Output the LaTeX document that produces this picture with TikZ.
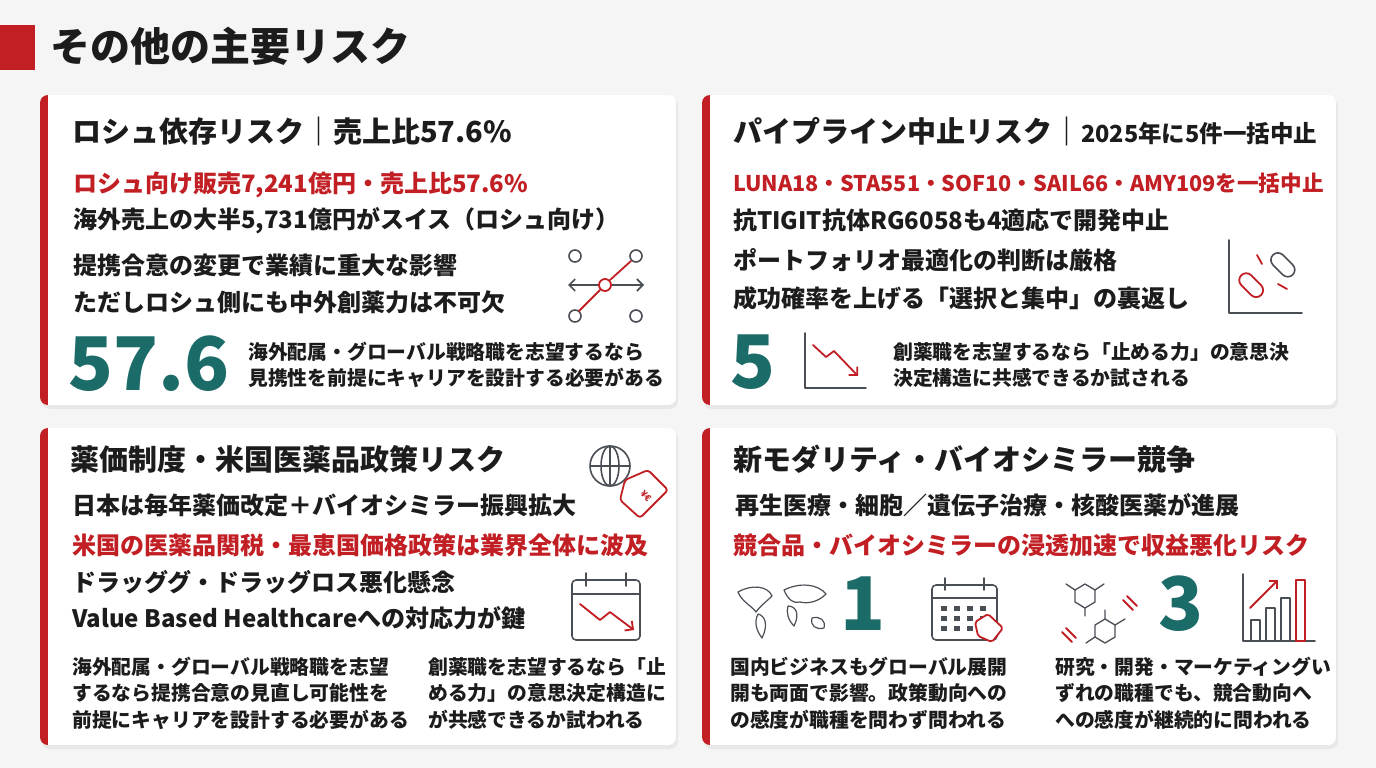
\documentclass[tikz,border=0pt]{standalone}
\usepackage{fontspec}
\setmainfont{Noto Sans CJK JP}
\usetikzlibrary{arrows.meta}
\definecolor{rd}{HTML}{C21F25}
\definecolor{tl}{HTML}{1B6B68}
\definecolor{tx}{HTML}{1C1C1C}
\definecolor{ic}{HTML}{4A4F55}
\newcommand{\fs}[1]{\fontsize{#1}{#1}\selectfont}
\newcommand{\cardbox}[4]{%
  \fill[black!9,rounded corners=8] (#1+2,#2+3) rectangle (#3+2,#4+4);
  \begin{scope}
  \clip[rounded corners=8] (#1,#2) rectangle (#3,#4);
  \fill[white] (#1,#2) rectangle (#3,#4);
  \fill[rd] (#1,#2) rectangle (#1+8,#4);
  \end{scope}}
\tikzset{
  ttl/.style={anchor=west,inner sep=0,text=tx,font=\fs{29}\bfseries},
  bd/.style={anchor=west,inner sep=0,text=tx,font=\fs{24}\bfseries},
  rdt/.style={anchor=west,inner sep=0,text=rd,font=\fs{24}\bfseries},
  sm/.style={anchor=west,inner sep=0,text=tx,font=\fs{19.8}\bfseries},
  big/.style={anchor=west,inner sep=0,text=tl,font=\fs{74}\bfseries},
  ico/.style={draw=ic,line width=1.6pt,line cap=round,line join=round},
  icr/.style={draw=rd,line width=1.8pt,line cap=round,line join=round}
}
\begin{document}
\begin{tikzpicture}[x=1pt,y=-1pt]
\fill[black!4] (0,0) rectangle (1376,768);
\useasboundingbox (0,0) rectangle (1376,768);
\fill[rd] (0,25) rectangle (35,70);
\node[anchor=west,inner sep=0,text=tx,font=\fs{40}\bfseries] (title) at (50,46) {その他の主要リスク};

\cardbox{40}{95}{676}{405}
\cardbox{702}{95}{1336}{405}
\cardbox{40}{428}{676}{745}
\cardbox{702}{428}{1336}{745}

% card 1
\node[ttl] (a1) at (72,131) {ロシュ依存リスク｜売上比57.6\%};
\node[rdt] (a2) at (73,185) {ロシュ向け販売7,241億円・売上比57.6\%};
\node[bd] (a3) at (73,221) {海外売上の大半5,731億円がスイス（ロシュ向け）};
\node[bd] (a4) at (73,265) {提携合意の変更で業績に重大な影響};
\node[bd] (a5) at (73,302) {ただしロシュ側にも中外創薬力は不可欠};
\node[big] (a6) at (68,364) {57.6};
\node[sm] (a7) at (248,352) {海外配属・グローバル戦略職を志望するなら};
\node[sm] (a8) at (248,378) {見携性を前提にキャリアを設計する必要がある};
\draw[ico] (575,256) circle (6) (636,256) circle (6) (575,316) circle (6) (636,316) circle (6);
\draw[ico,-{Straight Barb[length=6pt]}] (598,285) -- (568,285);
\draw[ico,-{Straight Barb[length=6pt]}] (612,285) -- (644,285);
\draw[icr] (579,311) -- (600,290) (610,280) -- (631,261);
\draw[icr] (605,285) circle (6);

% card 2
\node[ttl] (b1) at (733,131) {パイプライン中止リスク｜\fs{23.5}2025年に5件一括中止};
\node[rdt,font=\fs{21.6}\bfseries] (b2) at (733,183) {LUNA18・STA551・SOF10・SAIL66・AMY109を一括中止};
\node[bd] (b3) at (733,220) {抗TIGIT抗体RG6058も4適応で開発中止};
\node[bd] (b4) at (733,260) {ポートフォリオ最適化の判断は厳格};
\node[bd] (b5) at (733,298) {成功確率を上げる「選択と集中」の裏返し};
\node[big] (b6) at (730,362) {5};
\node[sm] (b7) at (893,352) {創薬職を志望するなら「止める力」の意思決};
\node[sm] (b8) at (893,378) {決定構造に共感できるか試される};
\draw[ico] (805,333) -- (805,388) -- (866,388);
\draw[icr,-{Straight Barb[length=6pt]}] (813,345) -- (826,357) -- (834,351) -- (858,376);
\draw[ico] (1229,240) -- (1229,313) -- (1302,313);
\begin{scope}[shift={(1254,288)},rotate=-45]
\draw[icr,rounded corners=7] (-18,-7) rectangle (10,7);
\end{scope}
\begin{scope}[shift={(1280,262)},rotate=-45]
\draw[ico,rounded corners=7] (-10,-7) rectangle (18,7);
\end{scope}
\draw[icr] (1262,264) -- (1257,255) (1278,284) -- (1287,289);

% card 3
\node[ttl] (c1) at (70,459) {薬価制度・米国医薬品政策リスク};
\node[bd] (c2) at (72,505) {日本は毎年薬価改定＋バイオシミラー振興拡大};
\node[rdt] (c3) at (72,545) {米国の医薬品関税・最恵国価格政策は業界全体に波及};
\node[bd] (c4) at (72,582) {ドラッググ・ドラッグロス悪化懸念};
\node[bd] (c5) at (72,618) {Value Based Healthcareへの対応力が鍵};
\node[sm] (c6) at (72,667) {海外配属・グローバル戦略職を志望};
\node[sm] (c7) at (72,693) {するなら提携合意の見直し可能性を};
\node[sm] (c8) at (72,720) {前提にキャリアを設計する必要がある};
\node[sm] (c9) at (428,667) {創薬職を志望するなら「止};
\node[sm] (c10) at (428,693) {める力」の意思決定構造に};
\node[sm] (c11) at (428,720) {が共感できるか試われる};
\draw[ico] (610,466) circle (20) (610,446) -- (610,486) (590,466) -- (630,466);
\draw[ico] (610,466) ellipse (9 and 20);
\draw[icr,rounded corners=3] (625,480) -- (648,470) -- (668,490) -- (640,518) -- (620,500) -- cycle;
\node[text=rd,font=\fs{9}\bfseries,rotate=-45,inner sep=0] (tag1) at (646,496) {¥€};
\draw[ico,rounded corners=4] (572,580) rectangle (640,640);
\draw[ico] (572,594) -- (640,594) (586,573) -- (586,586) (626,573) -- (626,586);
\draw[icr,-{Straight Barb[length=6pt]}] (580,604) -- (600,620) -- (610,612) -- (634,630);

% card 4
\node[ttl] (d1) at (733,459) {新モダリティ・バイオシミラー競争};
\node[bd] (d2) at (735,505) {再生医療・細胞／遺伝子治療・核酸医薬が進展};
\node[rdt] (d3) at (733,545) {競合品・バイオシミラーの浸透加速で収益悪化リスク};
\node[big] (d4) at (840,604) {1};
\node[big] (d5) at (1158,604) {3};
\node[sm] (d6) at (730,667) {国内ビジネスもグローバル展開};
\node[sm] (d7) at (730,693) {開も両面で影響。政策動向への};
\node[sm] (d8) at (730,720) {の感度が職種を問わず問われる};
\node[sm] (d9) at (1055,667) {研究・開発・マーケティングい};
\node[sm] (d10) at (1055,693) {ずれの職種でも、競合動向へ};
\node[sm] (d11) at (1055,720) {への感度が継続的に問われる};
% world map
\draw[ico,line width=1.2pt] (738,592) .. controls (752,584) and (768,586) .. (772,596) .. controls (766,602) and (760,606) .. (756,612) .. controls (752,606) and (742,602) .. cycle;
\draw[ico,line width=1.2pt] (758,614) .. controls (766,616) and (768,626) .. (762,638) .. controls (756,630) and (754,622) .. cycle;
\draw[ico,line width=1.2pt] (784,590) .. controls (800,582) and (818,584) .. (826,594) .. controls (818,602) and (808,604) .. (800,602) .. controls (794,604) and (788,600) .. cycle;
\draw[ico,line width=1.2pt] (788,606) .. controls (796,606) and (800,614) .. (794,626) .. controls (788,620) and (786,612) .. cycle;
\draw[ico,line width=1.2pt] (812,618) .. controls (820,616) and (826,620) .. (824,628) .. controls (816,630) and (810,626) .. cycle;
% calendar
\draw[ico,rounded corners=4] (932,585) rectangle (997,640);
\draw[ico] (932,598) -- (997,598) (945,578) -- (945,590) (984,578) -- (984,590);
\foreach \i in {0,1,2,3} \foreach \j in {0,1,2} \fill[ic] (941+\i*13,606+\j*10) rectangle (947+\i*13,611+\j*10);
\draw[icr,fill=white,rounded corners=2] (975,622) -- (988,614) -- (1003,628) -- (992,642) -- (978,636) -- cycle;
% molecules
\draw[ico,line width=1.3pt] (1075,590) -- (1085,584) -- (1095,590) -- (1095,602) -- (1085,608) -- (1075,602) -- cycle;
\draw[ico,line width=1.3pt] (1075,590) -- (1066,584) (1095,590) -- (1104,584) (1085,608) -- (1085,616);
\draw[ico,line width=1.3pt] (1095,625) -- (1105,619) -- (1115,625) -- (1115,637) -- (1105,643) -- (1095,637) -- cycle;
\draw[ico,line width=1.3pt] (1115,625) -- (1125,619) (1095,637) -- (1086,643) (1105,619) -- (1105,610);
\draw[icr] (1062,632) -- (1072,642) (1066,628) -- (1076,638) (1123,600) -- (1133,610) (1127,596) -- (1137,606);
% bar chart
\draw[ico] (1243,574) -- (1243,641) -- (1315,641);
\draw[ico] (1251,641) rectangle (1260,620) (1266,641) rectangle (1275,608) (1281,641) rectangle (1290,598);
\draw[icr] (1296,641) rectangle (1305,580);
\draw[icr,-{Straight Barb[length=6pt]}] (1250,608) -- (1278,580);
\end{tikzpicture}
\end{document}
